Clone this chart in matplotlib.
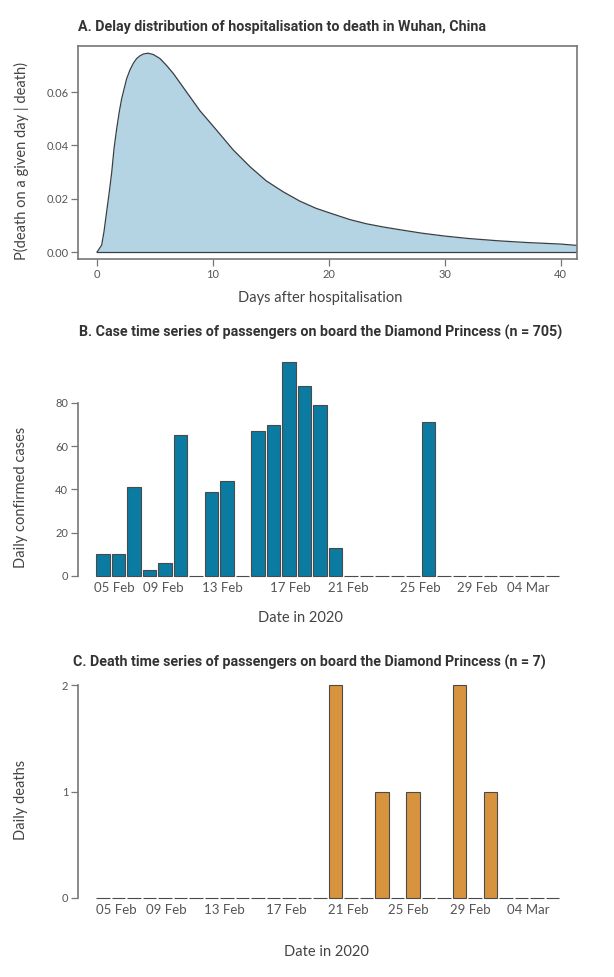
import matplotlib
matplotlib.use("Agg")
import matplotlib.pyplot as plt

# panel A: delay from hospitalisation to death
delay_days = [0, 0.11, 0.4, 0.6, 0.83, 1.06, 1.27, 1.47, 1.7, 1.92, 2.13,
              2.56, 2.84, 3.13, 3.42, 3.7, 4.0, 4.4, 4.86, 5.43, 6.0, 6.58,
              7.73, 8.88, 10.3, 11.75, 13.2, 14.6, 16.06, 17.5, 18.9, 20.4,
              21.8, 23.25, 24.7, 26.1, 28, 30, 32, 34.7, 37, 40, 41.4]
delay_prob = [0.0, 0.0007, 0.0026, 0.0076, 0.0151, 0.0226, 0.030, 0.0389,
              0.0464, 0.0526, 0.0576, 0.0651, 0.0683, 0.0708, 0.0726, 0.0736,
              0.0743, 0.0746, 0.0741, 0.0726, 0.070, 0.067, 0.060, 0.053,
              0.0458, 0.0383, 0.032, 0.0267, 0.0226, 0.0191, 0.0164, 0.0142,
              0.0122, 0.0106, 0.0094, 0.0084, 0.0071, 0.006, 0.0051, 0.0042,
              0.0036, 0.003, 0.0025]

# panels B and C: one bar per day
daily_cases = [10, 10, 41, 3, 6, 65, 0, 39, 44, 0, 67, 70, 99, 88, 79, 13,
               0, 0, 0, 0, 0, 71, 0, 0, 0, 0, 0, 0, 0, 0]
daily_deaths = [0, 0, 0, 0, 0, 0, 0, 0, 0, 0, 0, 0, 0, 0, 0, 2,
                0, 0, 1, 0, 1, 0, 0, 2, 0, 1, 0, 0, 0, 0]
date_labels = ["05 Feb", "09 Feb", "13 Feb", "17 Feb", "21 Feb", "25 Feb",
               "29 Feb", "04 Mar"]
# where the date labels sit along the bar axis (as in the original figure)
ticks_b = [0.75, 3.9, 7.7, 12.1, 15.8, 20.5, 24.15, 27.45]
ticks_c = [0.85, 4.1, 7.85, 11.8, 15.85, 19.7, 23.7, 27.45]

plt.rcParams["font.family"] = ["Lato", "DejaVu Sans"]

W, H = 614, 977
fig = plt.figure(figsize=(W / 100, H / 100), dpi=100)

def box(left, top, right, bottom):
    return [left / W, 1 - bottom / H, (right - left) / W, (bottom - top) / H]

grey = "#777777"
txt = "#555555"

# ---------- A ----------
axA = fig.add_axes(box(78, 46, 577, 259))
axA.fill_between(delay_days, delay_prob, 0, color="#b4d4e3", lw=0)
axA.plot(delay_days, delay_prob, color="#3a3f44", lw=0.9)
axA.plot([0, 41.4], [0, 0], color="#3a3f44", lw=0.9)
axA.set_xlim(-1.64, 41.4)
axA.set_ylim(-0.0026, 0.0773)
axA.set_xticks([0, 10, 20, 30, 40])
axA.set_yticks([0, 0.02, 0.04, 0.06])
axA.set_yticklabels(["0.00", "0.02", "0.04", "0.06"])
for s in axA.spines.values():
    s.set_color(grey)
    s.set_linewidth(1.2)
axA.tick_params(length=5, width=0.9, color=grey, labelcolor=txt, labelsize=8, pad=2)

# ---------- B and C ----------
def bar_panel(rect, values, color, ymax, yticks, ticks):
    ax = fig.add_axes(rect)
    x = list(range(len(values)))
    ax.bar(x, values, width=0.88, color=color, edgecolor="#4a4a4a", lw=0.8,
           clip_on=False)
    ax.set_xlim(-1.61, 30.58)
    ax.set_ylim(0, ymax)
    for side in ["top", "right", "bottom"]:
        ax.spines[side].set_visible(False)
    ax.spines["left"].set_bounds(yticks[0], yticks[-1])
    ax.spines["left"].set_color(grey)
    ax.spines["left"].set_linewidth(1.2)
    ax.set_yticks(yticks)
    ax.set_xticks(ticks)
    ax.set_xticklabels(date_labels)
    ax.tick_params(axis="y", length=5, width=0.9, color=grey, labelcolor=txt,
                   labelsize=8, pad=2)
    ax.tick_params(axis="x", length=0, labelcolor=txt, labelsize=9.5, pad=4)
    return ax

axB = bar_panel(box(78, 359.6, 577, 576), daily_cases, "#0b7ba1", 100,
                [0, 20, 40, 60, 80], ticks_b)
axC = bar_panel(box(78, 685, 577, 898), daily_deaths, "#d8933f", 2,
                [0, 1, 2], ticks_c)

# ---------- titles and labels ----------
def ftext(x, y, s, **kw):
    fig.text(x / W, 1 - y / H, s, **kw)

tkw = dict(fontsize=10.3, fontweight="bold", color="#333333", va="center",
           ha="left", family=["Roboto", "DejaVu Sans"])
ftext(78, 27, "A. Delay distribution of hospitalisation to death in Wuhan, China", **tkw)
ftext(79, 332, "B. Case time series of passengers on board the Diamond Princess (n = 705)", **tkw)
ftext(73, 662, "C. Death time series of passengers on board the Diamond Princess (n = 7)", **tkw)

lkw = dict(fontsize=10.5, color="#444444", ha="center", va="center")
ftext(320, 298, "Days after hospitalisation", **lkw)
ftext(300, 618, "Date in 2020", **lkw)
ftext(326, 952, "Date in 2020", **lkw)
ftext(21, 161, "P(death on a given day | death)", rotation=90, **lkw)
ftext(21, 497, "Daily confirmed cases", rotation=90, **lkw)
ftext(21, 800, "Daily deaths", rotation=90, **lkw)

fig.savefig("out.png", dpi=100)
